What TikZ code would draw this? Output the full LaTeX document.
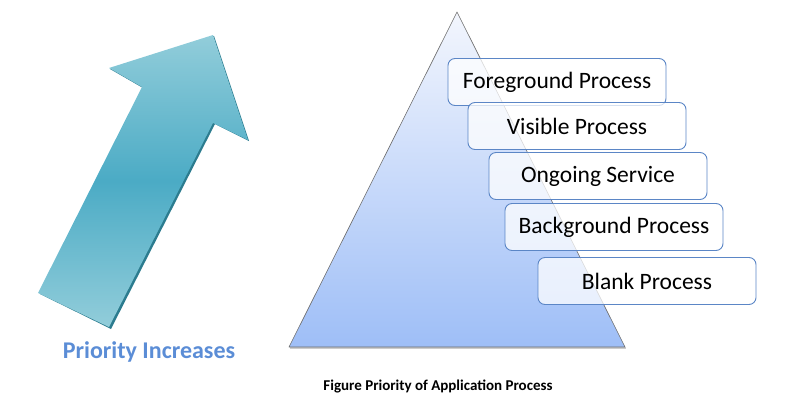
\documentclass[tikz,border=0pt]{standalone}
\usepackage{fontspec}
\setmainfont{Carlito}
\definecolor{arrowlight}{HTML}{92CDDA}
\definecolor{arrowmid}{HTML}{4BABC5}
\definecolor{arrowdark}{HTML}{2C7C8F}
\definecolor{pyrtop}{HTML}{F3F6FD}
\definecolor{pyrbot}{HTML}{9EBEF7}
\definecolor{boxline}{HTML}{5B86C6}
\definecolor{prioblue}{HTML}{5B8DD6}

\begin{document}
\begin{tikzpicture}[line cap=round,line join=round,x=1pt,y=-1pt,
  proc/.style={draw=boxline,line width=0.9pt,fill=white,fill opacity=0.75,text opacity=1,
    rounded corners=7pt,minimum width=218pt,minimum height=47pt,inner sep=0pt,
    font=\fontsize{23.5}{27}\selectfont}]
  \useasboundingbox (0,0) rectangle (806,402);
  % arrow, with its dark edge behind it
  \fill[arrowdark] (40,294) -- (111,329) -- (215,124) -- (249,141) -- (214,36)
    -- (110,69) -- (143,88) -- cycle;
  \shade[top color=arrowlight,bottom color=arrowlight,middle color=arrowmid]
    (38,293) -- (109,327) -- (213,123) -- (248,140) -- (213,35)
    -- (109,68) -- (142,87) -- cycle;
  \node[text=prioblue,font=\bfseries\fontsize{24}{28}\selectfont] (prio) at (149,352) {Priority Increases};
  % pyramid
  \fill[gray!40] (290,349) -- (626,349) -- (626,347) -- (290,347) -- cycle;
  \shade[top color=pyrtop,bottom color=pyrbot,draw=gray!85!black,line width=0.6pt]
    (457,12) -- (625,347) -- (289,347) -- cycle;
  % process levels
  \node[proc] (fg) at (557,82) {Foreground Process};
  \node[proc] (vis) at (577,126) {Visible Process};
  \node[proc] (svc) at (598,176) {Ongoing Service};
  \node[proc] (bg) at (614,227) {Background Process};
  \node[proc] (blank) at (647,281) {Blank Process};
  \node[font=\bfseries\fontsize{15}{18}\selectfont] (cap) at (438,386) {Figure Priority of Application Process};
\end{tikzpicture}
\end{document}
